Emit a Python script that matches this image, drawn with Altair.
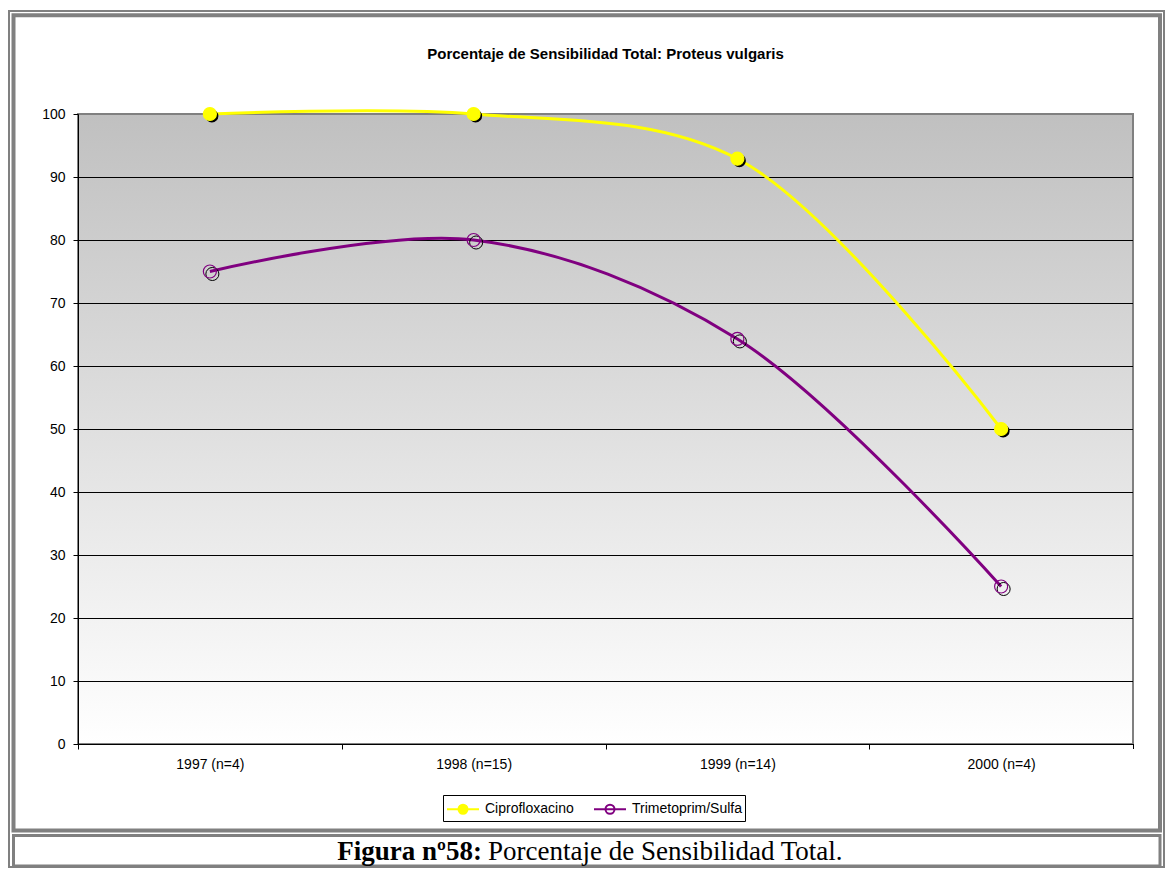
import altair as alt
import pandas as pd

# ---------------- data ----------------
years = ["1997 (n=4)", "1998 (n=15)", "1999 (n=14)", "2000 (n=4)"]
series_names = ["Ciprofloxacino", "Trimetoprim/Sulfa"]
cipro_values = [100.0, 100.0, 92.9, 50.0]
tms_values = [75.0, 80.0, 64.3, 25.0]
y_tick_values = [0, 10, 20, 30, 40, 50, 60, 70, 80, 90, 100]
grid_values = [10, 20, 30, 40, 50, 60, 70, 80, 90]
chart_title = ["Porcentaje de Sensibilidad Total: Proteus vulgaris"]
caption_bold = ["Figura nº58:"]
caption_regular = ["Porcentaje de Sensibilidad Total."]

rows = []
for yr, v in zip(years, cipro_values):
    rows.append({"year": yr, "series": series_names[0], "value": v})
for yr, v in zip(years, tms_values):
    rows.append({"year": yr, "series": series_names[1], "value": v})
df = pd.DataFrame(rows)
grid_df = pd.DataFrame({"value": grid_values})

# ---------------- layout ----------------
W, H = 1055, 630
STEP = W / len(years)
FONT = "Liberation Sans"

YELLOW = "#FFFF00"
PURPLE = "#800080"

# legend symbol: line with a circle, drawn in a 20px symbol box but 32px wide
LEGEND_PATH = ("M-1.6,0L-0.45,0M0.45,0L1.6,0"
               "M0.45,0A0.45,0.45,0,1,1,-0.45,0A0.45,0.45,0,1,1,0.45,0Z"
               "M-0.45,0L0.45,0")

def legend():
    return alt.Legend(
        title=None, orient="none", legendX=365, legendY=681,
        direction="horizontal", symbolType=LEGEND_PATH, symbolSize=400,
        symbolStrokeWidth=2, labelFont=FONT, labelFontSize=14,
        labelColor="black", strokeColor="black", fillColor="white",
        padding=3, columnPadding=16, labelOffset=11, symbolOffset=6,
        symbolOpacity=1,
    )

stroke_scale = alt.Scale(domain=series_names, range=[YELLOW, PURPLE])
fill_scale = alt.Scale(domain=series_names, range=[YELLOW, "transparent"])

y_scale = alt.Scale(domain=[0, 100], nice=False, zero=True)

x_enc = alt.X(
    "year:N", sort=years,
    scale=alt.Scale(type="point", padding=0.5, domain=years),
    axis=alt.Axis(
        title=None, tickOffset=-STEP / 2, labelOffset=STEP / 2,
        labelAngle=0, labelFont=FONT, labelFontSize=14, labelColor="black",
        tickColor="black", domainColor="black", tickSize=5, labelPadding=8,
        grid=False, zindex=1,
    ),
)
y_enc = alt.Y(
    "value:Q", scale=y_scale,
    axis=alt.Axis(
        title=None, values=y_tick_values, labelFont=FONT, labelFontSize=14,
        labelColor="black", tickColor="black", domainColor="black",
        tickSize=5, labelPadding=8, grid=False, zindex=1,
    ),
)

base = alt.Chart(df)

gradient = alt.LinearGradient(
    gradient="linear",
    stops=[alt.GradientStop(color="#C0C0C0", offset=0),
           alt.GradientStop(color="#FFFFFF", offset=1)],
    x1=0, x2=0, y1=0, y2=1,
)

one = alt.Data(values=[{"k": 1}])

background = alt.Chart(one).mark_rect(
    fill=gradient, stroke="#808080", strokeWidth=2
).encode(x=alt.value(0), x2=alt.value(W), y=alt.value(0), y2=alt.value(H))

grid = alt.Chart(grid_df).mark_rule(color="black", strokeWidth=1, yOffset=0.5).encode(
    y=y_enc
)

end_tick = alt.Chart(one).mark_rule(color="black", strokeWidth=1, xOffset=0.5).encode(
    x=alt.value(W), y=alt.value(H), y2=alt.value(H + 5)
)

lines = base.mark_line(interpolate="catmull-rom", strokeWidth=3).encode(
    x=x_enc, y=y_enc,
    stroke=alt.Stroke("series:N", scale=stroke_scale, legend=legend()),
)

shadow_c = base.transform_filter(alt.datum.series == series_names[0]).mark_point(
    shape="circle", filled=True, color="black", size=170, opacity=1,
    xOffset=2, yOffset=2,
).encode(x=x_enc, y=y_enc)

shadow_t = base.transform_filter(alt.datum.series == series_names[1]).mark_point(
    shape="circle", filled=False, color="black", size=170, opacity=1,
    strokeWidth=1, xOffset=2.5, yOffset=2.5,
).encode(x=x_enc, y=y_enc)

points = base.mark_point(shape="circle", size=170, strokeWidth=1.2, opacity=1).encode(
    x=x_enc, y=y_enc,
    stroke=alt.Stroke("series:N", scale=stroke_scale, legend=legend()),
    fill=alt.Fill("series:N", scale=fill_scale, legend=legend()),
)

# frames (page coords minus plot origin 78,114)
outer_frame = alt.Chart(one).mark_rect(fill=None, stroke="#808080", strokeWidth=2).encode(
    x=alt.value(-69), x2=alt.value(1086), y=alt.value(-103), y2=alt.value(753)
)
chart_frame = alt.Chart(one).mark_rect(fill=None, stroke="#808080", strokeWidth=4).encode(
    x=alt.value(-64.5), x2=alt.value(1082), y=alt.value(-98.7), y2=alt.value(716.5)
)
caption_frame = alt.Chart(one).mark_rect(fill=None, stroke="#808080", strokeWidth=3).encode(
    x=alt.value(-64.5), x2=alt.value(1082), y=alt.value(721.5), y2=alt.value(752)
)

title_text = alt.Chart(pd.DataFrame({"t": chart_title})).mark_text(
    font=FONT, fontSize=15, fontWeight="bold", align="center",
    baseline="alphabetic", color="black",
).encode(text="t:N", x=alt.value(W / 2), y=alt.value(-55))

cap_b = alt.Chart(pd.DataFrame({"t": caption_bold})).mark_text(
    font="Liberation Serif", fontSize=27, fontWeight="bold", align="right",
    baseline="alphabetic", color="black",
).encode(text="t:N", x=alt.value(404), y=alt.value(746))

cap_r = alt.Chart(pd.DataFrame({"t": caption_regular})).mark_text(
    font="Liberation Serif", fontSize=27, fontWeight="normal", align="left",
    baseline="alphabetic", color="black",
).encode(text="t:N", x=alt.value(410), y=alt.value(746))

chart = alt.layer(
    outer_frame, chart_frame, caption_frame,
    background, grid, end_tick, lines, shadow_c, shadow_t, points,
    title_text, cap_b, cap_r,
).properties(
    width=W, height=H,
    autosize=alt.AutoSizeParams(type="none"),
    padding={"left": 70, "top": 106, "right": 32, "bottom": 124},
    background="white",
).configure_view(stroke=None)

chart.save("out.html", embed_options={"renderer": "svg", "actions": False})
